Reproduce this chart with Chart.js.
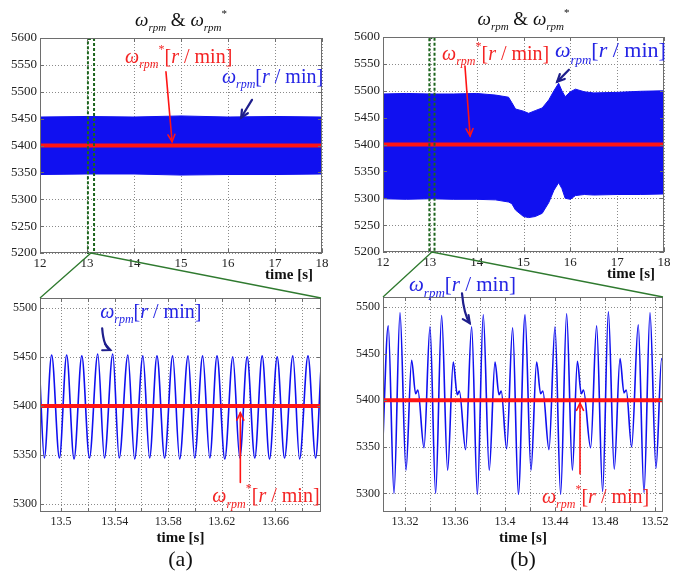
<!DOCTYPE html>
<html>
<head>
<meta charset="utf-8">
<script src="https://cdn.jsdelivr.net/npm/chart.js@4.4.0/dist/chart.umd.min.js"></script>
<style>
html, body { margin: 0; padding: 0; background: #fff; }
#page { position: relative; width: 684px; height: 575px; overflow: hidden; background: #fff; }
canvas { position: absolute; }
</style>
</head>
<body>
<div id="page">
	<canvas id="tl"></canvas>
	<canvas id="tr"></canvas>
	<canvas id="bl"></canvas>
	<canvas id="br"></canvas>
	<canvas id="overlay" width="684" height="575"></canvas>
</div>
<script>
// ---- data ----
// (a) top: envelope of the speed band, 12..18 s
const tlTime = [12, 13, 14, 15, 16, 17, 18];
const tlUpper = [5453, 5454, 5453, 5455, 5453, 5454, 5453];
const tlLower = [5346, 5347, 5347, 5345, 5346, 5346, 5347];
const tlRefTime = [12, 18];
const tlRefSpeed = [5400, 5400];

// (b) top: envelope of the speed band, 12..18 s
const trTime = [12.0, 12.5, 13.0, 13.5, 14.0, 14.4, 14.68, 14.75, 14.83, 15.0, 15.11, 15.25, 15.4, 15.54, 15.65, 15.75, 15.82, 15.89, 16.0, 16.11, 16.3, 16.5, 17.0, 17.5, 18.0];
const trUpper = [5494, 5495, 5494, 5494, 5495, 5492, 5488, 5478, 5466, 5462, 5458, 5463, 5468, 5483, 5500, 5514, 5500, 5489, 5498, 5503, 5498, 5496, 5497, 5499, 5500];
const trLower = [5299, 5298, 5299, 5298, 5298, 5297, 5293, 5290, 5278, 5266, 5264, 5266, 5272, 5292, 5315, 5329, 5318, 5300, 5298, 5305, 5307, 5306, 5307, 5307, 5308];
const trRefTime = [12, 18];
const trRefSpeed = [5400, 5400];

// (a) bottom: zoomed speed, peaks and troughs
const blTime = [13.4840, 13.4875, 13.4930, 13.4988, 13.5042, 13.5097, 13.5155, 13.5212, 13.5274, 13.5324, 13.5386,
	13.5434, 13.5499, 13.5549, 13.5611, 13.5661, 13.5716, 13.5773, 13.5833, 13.5885, 13.5948, 13.5997, 13.6057,
	13.6110, 13.6164, 13.6222, 13.6282, 13.6334, 13.6389, 13.6446, 13.6501, 13.6556, 13.6613, 13.6668, 13.6730,
	13.6780, 13.6843, 13.6900, 13.6940];
const blSpeed = [5435, 5347, 5452, 5347, 5452, 5346, 5451, 5347, 5453, 5347, 5453,
	5347, 5452, 5346, 5451, 5347, 5451, 5347, 5451, 5346, 5451, 5347, 5451,
	5347, 5451, 5346, 5450, 5347, 5450, 5347, 5451, 5346, 5450, 5347, 5451,
	5346, 5451, 5347, 5439];
const blRefTime = [13.48, 13.70];
const blRefSpeed = [5400, 5400];

// (b) bottom: zoomed speed, extrema and shoulders
const brTime = [13.3020, 13.3066, 13.3112, 13.3160, 13.3208, 13.3253, 13.3285, 13.3303, 13.3352,
	13.3400, 13.3445, 13.3493, 13.3541, 13.3586, 13.3618, 13.3635, 13.3685,
	13.3733, 13.3779, 13.3826, 13.3874, 13.3920, 13.3952, 13.3970, 13.4013,
	13.4061, 13.4107, 13.4160, 13.4208, 13.4253, 13.4285, 13.4303, 13.4352,
	13.4400, 13.4445, 13.4493, 13.4539, 13.4579, 13.4610, 13.4628, 13.4685,
	13.4733, 13.4781, 13.4827, 13.4874, 13.4920, 13.4952, 13.4970, 13.5013,
	13.5066, 13.5112, 13.5160, 13.5208, 13.5253, 13.5285];
const brSpeed = [5345, 5480, 5300, 5494, 5325, 5443, 5407, 5411, 5349,
	5479, 5300, 5491, 5325, 5441, 5406, 5410, 5347,
	5479, 5299, 5492, 5325, 5441, 5406, 5410, 5348,
	5478, 5299, 5492, 5325, 5441, 5407, 5410, 5347,
	5479, 5299, 5493, 5325, 5442, 5407, 5411, 5349,
	5480, 5302, 5495, 5326, 5445, 5408, 5411, 5350,
	5481, 5301, 5494, 5327, 5445, 5416];
const brRefTime = [13.30, 13.53];
const brRefSpeed = [5400, 5400];

// ---- styling ----
const RED = '#ff1414';
const RED_TXT = '#f42424';
const BLUE = '#1010f0';
const BLUE_TXT = '#2424e4';
const NAVY = '#1e1e8c';
const GREEN = '#2f7a2f';
const SERIF = '"Liberation Serif", "Times New Roman", serif';

const LBL_REF = [['ω', 'i', 1], ['rpm', 'sub', 0.6], ['*', 'sup', 0.6], ['[', 'n', 1], ['r', 'i', 1], [' / min]', 'n', 1]];
const LBL_SPD = [['ω', 'i', 1], ['rpm', 'sub', 0.6], ['[', 'n', 1], ['r', 'i', 1], [' / min]', 'n', 1]];
const LBL_TITLE = [['ω', 'i', 1], ['rpm', 'sub', 0.6], [' & ', 'n', 1], ['ω', 'i', 1], ['rpm', 'sub', 0.6], ['*', 'sup', 0.6]];

const pts = (xs, ys) => xs.map((x, i) => ({ x, y: ys[i] }));

function drawRich(ctx, x, y, parts, size, color, align) {
	const fontOf = (p) => `${p[1] === 'i' || p[1] === 'sub' ? 'italic ' : ''}${Math.round(size * p[2])}px ${SERIF}`;
	let w = 0;
	for (const p of parts) {
		ctx.font = fontOf(p);
		w += ctx.measureText(p[0]).width;
	}
	let cx = align === 'center' ? x - w / 2 : align === 'right' ? x - w : x;
	ctx.fillStyle = color;
	ctx.textAlign = 'left';
	ctx.textBaseline = 'alphabetic';
	for (const p of parts) {
		ctx.font = fontOf(p);
		const dy = p[1] === 'sub' ? size * 0.28 : p[1] === 'sup' ? -size * 0.5 : 0;
		ctx.fillText(p[0], cx, y + dy);
		cx += ctx.measureText(p[0]).width;
	}
}

function drawArrow(ctx, a, b, c, color, width) {
	ctx.strokeStyle = color;
	ctx.lineWidth = width;
	ctx.setLineDash([]);
	ctx.lineCap = 'round';
	ctx.beginPath();
	ctx.moveTo(a.x, a.y);
	if (c) ctx.quadraticCurveTo(c.x, c.y, b.x, b.y);
	else ctx.lineTo(b.x, b.y);
	ctx.stroke();
	const from = c || a;
	const ang = Math.atan2(b.y - from.y, b.x - from.x);
	const L = 8;
	const spread = 0.45;
	ctx.beginPath();
	ctx.moveTo(b.x - L * Math.cos(ang - spread), b.y - L * Math.sin(ang - spread));
	ctx.lineTo(b.x, b.y);
	ctx.lineTo(b.x - L * Math.cos(ang + spread), b.y - L * Math.sin(ang + spread));
	ctx.stroke();
}

function makeDecor(cfg) {
	return {
		id: 'decor',
		beforeDatasetsDraw(chart) {
			// dotted grid, drawn here so the dash pattern is under our control
			const { ctx, chartArea: a, scales: { x, y } } = chart;
			ctx.save();
			ctx.strokeStyle = '#8a8a8a';
			ctx.lineWidth = 1;
			ctx.setLineDash([1, 2]);
			ctx.beginPath();
			for (const t of x.ticks) {
				const px = Math.round(x.getPixelForValue(t.value)) + 0.5;
				ctx.moveTo(px, a.top); ctx.lineTo(px, a.bottom);
			}
			for (const t of y.ticks) {
				const py = Math.round(y.getPixelForValue(t.value)) + 0.5;
				ctx.moveTo(a.left, py); ctx.lineTo(a.right, py);
			}
			ctx.stroke();
			ctx.restore();
		},
		afterDraw(chart) {
			const { ctx, chartArea: a, scales: { x, y } } = chart;
			const P = (t, v) => ({ x: x.getPixelForValue(t), y: y.getPixelForValue(v) });
			ctx.save();

			if (cfg.zoomBox) {
				const x1 = x.getPixelForValue(cfg.zoomBox[0]);
				const x2 = x.getPixelForValue(cfg.zoomBox[1]);
				ctx.strokeStyle = '#1d661d';
				ctx.lineWidth = 2;
				ctx.setLineDash([3, 2]);
				ctx.strokeRect(x1, a.top + 1, x2 - x1, a.bottom - a.top - 1);
			}

			// axes box with inward ticks
			ctx.setLineDash([]);
			ctx.strokeStyle = '#6e6e6e';
			ctx.lineWidth = 1;
			ctx.strokeRect(a.left + 0.5, a.top + 0.5, a.right - a.left - 1, a.bottom - a.top - 1);
			ctx.beginPath();
			for (const t of x.ticks) {
				const px = Math.round(x.getPixelForValue(t.value)) + 0.5;
				ctx.moveTo(px, a.bottom); ctx.lineTo(px, a.bottom - 4);
				ctx.moveTo(px, a.top); ctx.lineTo(px, a.top + 4);
			}
			for (const t of y.ticks) {
				const py = Math.round(y.getPixelForValue(t.value)) + 0.5;
				ctx.moveTo(a.left, py); ctx.lineTo(a.left + 4, py);
				ctx.moveTo(a.right, py); ctx.lineTo(a.right - 4, py);
			}
			ctx.stroke();

			if (cfg.title) {
				drawRich(ctx, (a.left + a.right) / 2, a.top - 12, LBL_TITLE, 19, '#111', 'center');
			}

			ctx.fillStyle = '#111';
			ctx.font = `bold 15px ${SERIF}`;
			ctx.textBaseline = 'alphabetic';
			if (cfg.xlabelRight) {
				ctx.textAlign = 'right';
				ctx.fillText('time [s]', a.right - 9, a.bottom + 26);
			} else {
				ctx.textAlign = 'center';
				ctx.fillText('time [s]', (a.left + a.right) / 2, a.bottom + 30);
			}
			if (cfg.caption) {
				ctx.font = `22px ${SERIF}`;
				ctx.textAlign = 'center';
				ctx.fillText(cfg.caption, (a.left + a.right) / 2, a.bottom + 54);
			}

			for (const n of cfg.notes || []) {
				if (n.text) {
					const p = P(n.at[0], n.at[1]);
					drawRich(ctx, p.x, p.y, n.text, n.size, n.color, 'left');
				} else {
					drawArrow(ctx, P(n.from[0], n.from[1]), P(n.to[0], n.to[1]),
						n.ctrl ? P(n.ctrl[0], n.ctrl[1]) : null, n.color, n.width);
				}
			}
			ctx.restore();
		},
	};
}

function buildChart(id, box, area, axes, datasets, decor) {
	const canvas = document.getElementById(id);
	canvas.width = box.w;
	canvas.height = box.h;
	canvas.style.left = box.x + 'px';
	canvas.style.top = box.y + 'px';

	const gridOpts = { display: false, drawTicks: false };
	const borderOpts = { display: false };
	const tickFont = { family: SERIF, size: axes.fontSize };

	return new Chart(canvas, {
		type: 'line',
		data: { datasets },
		options: {
			responsive: false,
			animation: false,
			events: [],
			layout: { padding: { left: 0, top: area.top - box.y, right: box.x + box.w - area.right, bottom: 0 } },
			plugins: { legend: { display: false }, tooltip: { enabled: false } },
			elements: { point: { radius: 0 } },
			scales: {
				x: {
					type: 'linear',
					min: axes.xMin,
					max: axes.xMax,
					afterFit: (s) => { s.height = box.y + box.h - area.bottom; },
					grid: gridOpts,
					border: borderOpts,
					ticks: {
						stepSize: axes.xStep,
						includeBounds: false,
						autoSkip: false,
						maxRotation: 0,
						padding: 3,
						color: '#222',
						font: tickFont,
						callback: axes.xLabel,
					},
				},
				y: {
					min: axes.yMin,
					max: axes.yMax,
					afterFit: (s) => { s.width = area.left - box.x; },
					grid: gridOpts,
					border: borderOpts,
					ticks: {
						stepSize: 50,
						includeBounds: false,
						padding: 3,
						color: '#222',
						font: tickFont,
						callback: (v) => String(Math.round(v)),
					},
				},
			},
		},
		plugins: [makeDecor(decor)],
	});
}

function refSet(xs, ys) {
	return { data: pts(xs, ys), borderColor: RED, borderWidth: 4, fill: false, pointRadius: 0 };
}

function bandSets(xs, upper, lower) {
	return [
		{ data: pts(xs, upper), borderColor: BLUE, borderWidth: 1, fill: false, pointRadius: 0 },
		{ data: pts(xs, lower), borderColor: BLUE, borderWidth: 1, fill: '-1', backgroundColor: BLUE, pointRadius: 0 },
	];
}

function waveSet(xs, ys) {
	return { data: pts(xs, ys), borderColor: BLUE, borderWidth: 1.6, fill: false, pointRadius: 0, cubicInterpolationMode: 'monotone' };
}

const topLabel = (v) => String(Math.round(v));
const blLabel = (v) => (Math.round(v * 100) % 4 === 2 ? String(Math.round(v * 100) / 100) : '');
const brLabel = (v) => (Math.round(v * 100) % 4 === 0 ? String(Math.round(v * 100) / 100) : '');

const tlBox = { x: 0, y: 0, w: 342, h: 290 };
const trBox = { x: 342, y: 0, w: 342, h: 290 };
const blBox = { x: 0, y: 270, w: 342, h: 305 };
const brBox = { x: 342, y: 270, w: 342, h: 305 };

const tl = buildChart('tl', tlBox, { left: 40, top: 38, right: 322, bottom: 253 },
	{ xMin: 12, xMax: 18, xStep: 1, yMin: 5200, yMax: 5600, fontSize: 13, xLabel: topLabel },
	[refSet(tlRefTime, tlRefSpeed), ...bandSets(tlTime, tlUpper, tlLower)],
	{
		title: true, xlabelRight: true, zoomBox: [13.02, 13.15],
		notes: [
			{ text: LBL_REF, at: [13.81, 5554], size: 20, color: RED_TXT },
			{ from: [14.68, 5537], to: [14.81, 5407], color: RED, width: 1.6 },
			{ text: LBL_SPD, at: [15.87, 5517], size: 20, color: BLUE_TXT },
			{ from: [16.51, 5485], to: [16.28, 5452], color: NAVY, width: 2.2 },
		],
	});

const tr = buildChart('tr', trBox, { left: 383, top: 37, right: 664, bottom: 252 },
	{ xMin: 12, xMax: 18, xStep: 1, yMin: 5200, yMax: 5600, fontSize: 13, xLabel: topLabel },
	[refSet(trRefTime, trRefSpeed), ...bandSets(trTime, trUpper, trLower)],
	{
		title: true, xlabelRight: true, zoomBox: [12.99, 13.10],
		notes: [
			{ text: LBL_REF, at: [13.26, 5558], size: 20, color: RED_TXT },
			{ from: [13.75, 5546], to: [13.86, 5416], color: RED, width: 1.6 },
			{ text: LBL_SPD, at: [15.67, 5562], size: 22, color: BLUE_TXT },
			{ from: [15.97, 5539], to: [15.72, 5517], color: NAVY, width: 2.2 },
		],
	});

const bl = buildChart('bl', blBox, { left: 40, top: 298, right: 321, bottom: 512 },
	{ xMin: 13.4843, xMax: 13.694, xStep: 0.02, yMin: 5292, yMax: 5510, fontSize: 12, xLabel: blLabel },
	[refSet(blRefTime, blRefSpeed), waveSet(blTime, blSpeed)],
	{
		caption: '(a)',
		notes: [
			{ text: LBL_SPD, at: [13.5292, 5490], size: 20, color: BLUE_TXT },
			{ from: [13.5307, 5479], ctrl: [13.5318, 5460], to: [13.5367, 5457], color: NAVY, width: 2.2 },
			{ text: LBL_REF, at: [13.6129, 5302], size: 20, color: RED_TXT },
			{ from: [13.6338, 5322], to: [13.6338, 5393], color: RED, width: 1.6 },
		],
	});

const br = buildChart('br', brBox, { left: 383, top: 297, right: 663, bottom: 512 },
	{ xMin: 13.3024, xMax: 13.5264, xStep: 0.02, yMin: 5280, yMax: 5511, fontSize: 12, xLabel: brLabel },
	[refSet(brRefTime, brRefSpeed), waveSet(brTime, brSpeed)],
	{
		caption: '(b)',
		notes: [
			{ text: LBL_SPD, at: [13.3232, 5517], size: 21, color: BLUE_TXT },
			{ from: [13.3656, 5515], ctrl: [13.3672, 5492], to: [13.3718, 5483], color: NAVY, width: 2.2 },
			{ text: LBL_REF, at: [13.4296, 5290], size: 20, color: RED_TXT },
			{ from: [13.46, 5321], to: [13.46, 5397], color: RED, width: 1.6 },
		],
	});

// green lines joining each zoom box to the zoomed plot below
function linkZoom(top, topBox, bottom, bottomBox, zoomBox) {
	const ctx = document.getElementById('overlay').getContext('2d');
	const tx = topBox.x + top.scales.x.getPixelForValue((zoomBox[0] + zoomBox[1]) / 2);
	const ty = topBox.y + top.chartArea.bottom;
	const b = bottom.chartArea;
	ctx.strokeStyle = GREEN;
	ctx.lineWidth = 1.3;
	ctx.beginPath();
	ctx.moveTo(bottomBox.x + b.left, bottomBox.y + b.top);
	ctx.lineTo(tx, ty);
	ctx.lineTo(bottomBox.x + b.right, bottomBox.y + b.top);
	ctx.stroke();
}

linkZoom(tl, tlBox, bl, blBox, [13.02, 13.15]);
linkZoom(tr, trBox, br, brBox, [12.99, 13.10]);
</script>
</body>
</html>
